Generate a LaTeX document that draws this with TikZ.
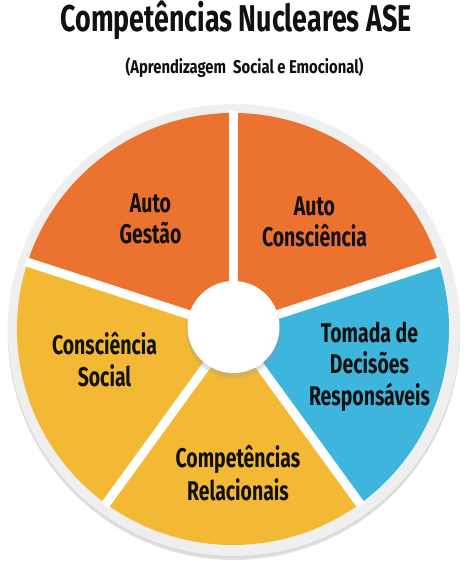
\documentclass[tikz,border=0pt]{standalone}
\usepackage{fontspec}
\newfontfamily\condfont{Fira Sans}[FakeStretch=0.72]
\newfontfamily\subfont{Fira Sans}[FakeStretch=0.80]
\definecolor{segorange}{HTML}{EC7230}
\definecolor{segyellow}{HTML}{F4B934}
\definecolor{segblue}{HTML}{3EB5DC}
\definecolor{ringgray}{HTML}{EFEFEF}
\definecolor{txt}{HTML}{111111}
\tikzset{
  lbl/.style={font=\condfont\bfseries\fontsize{27}{31}\selectfont, text=txt, anchor=base, inner sep=0pt},
  ttl/.style={font=\condfont\bfseries\fontsize{37.3}{40}\selectfont, text=txt, anchor=base, inner sep=0pt},
  sub/.style={font=\subfont\bfseries\fontsize{18.5}{20}\selectfont, text=txt, anchor=base, inner sep=0pt},
  gapline/.style={white, line width=9pt},
}
\begin{document}
\begin{tikzpicture}[x=1pt,y=1pt]
\useasboundingbox (0,0) rectangle (474,563);
\fill[white] (0,0) rectangle (474,563);
% ring with shadow
\fill[black!30, opacity=0.35] (234,229) circle (226);
\fill[black!20, opacity=0.35] (234,231) circle (226.5);
\fill[ringgray] (234,233) circle (226);
\coordinate (c) at (233,234);
% segments
\fill[segorange] (c) -- ++(18:216) arc (18:162:216) -- cycle;
\fill[segblue] (c) -- ++(-54:216) arc (-54:18:216) -- cycle;
\fill[segyellow] (c) -- ++(162:216) arc (162:306:216) -- cycle;
% gaps
\foreach \a in {18,90,162,234,306} \draw[gapline] (c) -- ++(\a:218);
% inner circle with soft shadow
\fill[black!40, opacity=0.15] (233.5,232) circle (48);
\fill[black!40, opacity=0.2] (233.5,233) circle (47);
\fill[white] (233.5,236) circle (46);
% title
\node[ttl] (title) at (236,531) {Competências Nucleares ASE};
\node[sub] (subtitle) at (244.5,489) {(Aprendizagem\ \ Social e Emocional)};
% labels
\node[lbl] (ag1) at (150.5,350.3) {Auto};
\node[lbl] (ag2) at (150.5,319) {Gestão};
\node[lbl] (ac1) at (314.5,347) {Auto};
\node[lbl] (ac2) at (314.5,316.3) {Consciência};
\node[lbl] (td1) at (369.5,220.3) {Tomada de};
\node[lbl] (td2) at (369.5,189) {Decisões};
\node[lbl] (td3) at (369.5,157) {Responsáveis};
\node[lbl] (cs1) at (104.5,208) {Consciência};
\node[lbl] (cs2) at (104.5,176.3) {Social};
\node[lbl] (cr1) at (238,95) {Competências};
\node[lbl] (cr2) at (238,63) {Relacionais};
\end{tikzpicture}
\end{document}
